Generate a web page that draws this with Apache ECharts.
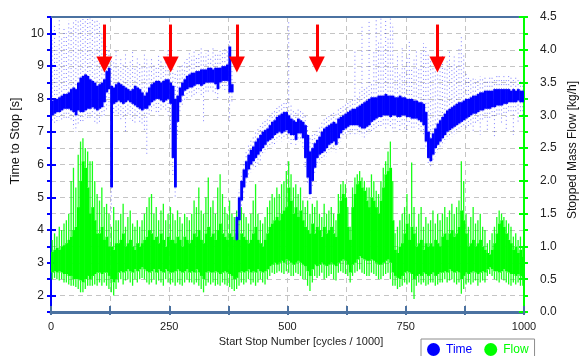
<!DOCTYPE html>
<html>
<head>
<meta charset="utf-8">
<script src="https://cdn.jsdelivr.net/npm/echarts@6/dist/echarts.min.js"></script>
<style>
  html, body { margin: 0; padding: 0; background: #fff; }
  #chart { width: 579px; height: 356px; }
</style>
</head>
<body>
<div id="chart"></div>
<script>
// Each bin covers 5 (x1000) start-stop cycles; bin i spans [i*5, i*5+5].
const BIN = 5;

// Time to stop [s]: dense band (lo..hi) and sparse scatter extent (min..max) per bin
const timeLo = [
  7.5,7.55,7.6,7.6,7.65,7.7,7.7,7.7,7.65,7.6,
  7.5,7.65,7.6,7.6,7.65,7.7,7.7,7.75,7.7,7.65,
  7.7,7.75,7.9,8.2,8.3,5.3,7.85,7.9,7.95,7.9,
  7.85,7.9,7.95,7.9,7.85,7.8,7.75,7.7,7.65,7.7,
  7.7,7.8,7.9,7.95,8.0,8.0,7.95,7.9,7.95,8.0,
  7.85,6.2,5.3,7.3,7.9,8.1,8.25,8.3,8.35,8.35,
  8.4,8.45,8.45,8.4,8.45,8.5,8.5,8.5,8.5,8.45,
  8.3,8.5,8.55,8.55,8.55,8.2,8.2,null,3.7,4.3,
  4.9,5.3,5.6,5.85,6.0,6.1,6.2,6.3,6.4,6.5,
  6.6,6.7,6.75,6.8,6.9,6.95,7.0,6.95,7.0,7.05,
  6.95,6.9,6.9,6.75,6.95,6.95,6.8,6.2,5.6,5.1,
  5.5,5.9,6.2,6.3,6.35,6.4,6.5,6.6,6.65,6.7,
  6.6,6.8,6.95,7.05,7.1,7.15,7.2,7.2,7.2,7.2,
  7.15,7.1,7.1,7.15,7.2,7.3,7.35,7.4,7.45,7.45,
  7.5,7.5,7.5,7.45,7.5,7.5,7.45,7.45,7.5,7.5,
  7.45,7.45,7.4,7.4,7.4,7.35,7.3,7.2,6.7,6.2,
  6.1,6.3,6.5,6.6,6.7,6.8,6.9,7.0,7.05,7.1,
  7.15,7.2,7.25,7.3,7.35,7.4,7.45,7.5,7.55,7.55,
  7.6,7.65,7.65,7.7,7.7,7.7,7.75,7.75,7.8,7.8,
  7.8,7.85,7.85,7.9,7.9,7.9,7.9,7.95,7.9,7.9
];
const timeHi = [
  7.95,8.0,8.0,8.05,8.1,8.15,8.15,8.2,8.3,8.35,
  8.3,8.5,8.65,8.7,8.75,8.7,8.6,8.55,8.5,8.4,
  8.45,8.5,8.6,8.85,8.95,8.4,8.35,8.45,8.5,8.45,
  8.4,8.35,8.3,8.25,8.3,8.4,8.35,8.3,8.2,8.1,
  8.2,8.35,8.45,8.5,8.55,8.55,8.5,8.55,8.6,8.6,
  8.5,8.4,8.0,8.1,8.35,8.5,8.6,8.7,8.75,8.8,
  8.8,8.85,8.85,8.9,8.9,8.9,8.95,8.95,8.9,8.95,
  8.95,8.95,9.0,9.0,9.05,9.6,8.45,null,4.4,5.0,
  5.5,5.85,6.1,6.3,6.45,6.55,6.7,6.8,6.9,7.0,
  7.05,7.1,7.2,7.3,7.35,7.45,7.5,7.55,7.6,7.6,
  7.5,7.4,7.35,7.3,7.4,7.35,7.3,7.2,6.9,6.4,
  6.5,6.65,6.75,6.85,7.0,7.1,7.15,7.2,7.25,7.3,
  7.25,7.4,7.45,7.5,7.55,7.6,7.65,7.7,7.7,7.75,
  7.8,7.85,7.9,7.95,8.0,8.05,8.05,8.05,8.1,8.1,
  8.1,8.15,8.1,8.1,8.1,8.05,8.05,8.1,8.05,8.05,
  8.0,8.0,8.0,7.95,7.95,7.9,7.9,7.85,7.6,7.0,
  6.8,6.95,7.1,7.25,7.35,7.45,7.55,7.65,7.7,7.75,
  7.8,7.85,7.9,7.9,7.95,8.0,8.0,8.05,8.1,8.1,
  8.15,8.2,8.2,8.25,8.25,8.25,8.25,8.3,8.3,8.3,
  8.3,8.3,8.3,8.3,8.25,8.3,8.25,8.3,8.25,8.25
];
const timeMin = [
  7.3,7.2,7.3,7.35,7.3,7.4,7.4,7.4,7.3,7.1,
  7.0,7.2,7.3,7.3,7.4,7.4,7.35,7.4,7.3,7.2,
  7.3,7.4,7.5,7.6,7.8,4.5,7.5,7.6,7.5,7.3,
  7.4,6.95,7.5,7.4,7.3,7.2,7.4,7.3,7.2,7.0,
  6.3,7.5,7.6,7.7,7.6,7.5,7.6,7.7,7.6,7.5,
  7.0,5.6,5.0,6.8,7.6,7.8,7.9,8.0,8.1,8.0,
  8.1,8.1,8.2,8.1,7.3,8.2,8.2,8.3,8.2,8.1,
  8.0,8.3,8.3,8.2,8.3,7.3,7.9,null,3.6,4.15,
  4.7,5.1,5.35,5.6,5.75,5.85,5.9,6.0,6.1,6.3,
  6.35,6.45,6.5,6.55,6.6,6.7,6.75,6.7,6.75,6.8,
  6.7,6.6,6.7,6.6,6.7,6.7,6.5,5.9,5.4,4.95,
  5.3,5.7,5.95,6.05,6.1,6.15,6.25,6.35,6.4,6.45,
  6.35,6.55,6.7,6.8,6.85,6.9,6.9,6.95,6.9,6.95,
  6.9,6.85,6.8,6.9,6.95,7.0,7.05,7.1,7.1,7.15,
  7.2,7.1,7.2,7.1,7.0,7.1,7.2,7.0,7.2,7.1,
  7.0,7.2,7.1,7.1,7.15,7.05,7.0,6.9,6.5,6.0,
  5.95,6.05,6.25,6.35,6.45,6.55,6.65,6.75,6.8,6.85,
  6.9,6.95,7.0,7.05,7.1,7.1,7.15,7.2,7.0,7.25,
  7.3,6.9,7.35,7.4,7.0,7.4,7.45,6.8,7.5,7.45,
  7.2,7.55,7.0,7.6,7.55,6.9,7.6,7.3,7.6,7.4
];
const timeMax = [
  9.8,10.3,9.6,10.4,9.9,10.2,10.0,10.4,10.2,10.4,
  10.4,10.45,10.45,10.45,10.45,10.45,10.45,10.45,10.45,10.45,
  10.3,10.0,9.8,9.6,9.5,9.3,9.2,9.5,9.0,9.3,
  9.1,9.4,9.0,9.2,9.5,9.0,9.3,9.1,9.0,9.4,
  9.2,9.0,9.3,9.1,9.0,9.4,9.2,9.0,9.3,9.5,
  9.2,9.0,8.8,8.9,9.0,9.1,9.2,9.3,9.4,9.3,
  9.5,9.3,9.4,9.6,9.3,9.4,9.5,9.3,9.6,9.4,
  9.4,9.5,9.4,9.6,9.5,9.8,8.9,null,4.6,5.25,
  5.75,6.1,6.4,6.6,6.75,6.9,7.0,7.1,7.2,7.3,
  7.35,7.45,7.5,7.6,7.65,7.75,7.8,7.85,7.9,7.95,
  10.4,7.8,7.7,7.65,7.7,7.7,7.6,7.5,7.2,6.8,
  6.9,7.0,7.1,7.2,7.3,7.4,7.45,7.5,7.55,7.6,
  7.55,7.7,7.75,7.8,7.85,7.9,8.0,8.0,9.5,8.1,
  8.3,10.2,8.3,8.4,10.4,8.5,9.5,10.45,9.8,10.45,
  9.6,10.45,9.9,10.45,10.3,9.0,9.4,8.8,9.6,9.0,
  9.3,9.8,8.9,9.2,9.5,9.0,9.4,9.7,9.6,9.4,
  9.2,9.0,9.3,9.6,9.1,9.4,9.0,9.2,9.5,9.1,
  9.3,9.0,9.6,9.9,9.4,8.8,8.7,8.6,8.7,8.6,
  8.6,8.7,8.6,8.7,8.6,8.7,8.7,8.6,8.7,8.7,
  8.6,8.7,8.6,8.7,8.7,8.6,8.7,8.6,8.6,8.5
];

// Stopped mass flow [kg/h]: dense band (lo..hi), spike tops (peak) and low tails (min) per bin
const flowLo = [
  0.6,0.62,0.6,0.62,0.6,0.58,0.58,0.55,0.55,0.5,
  0.5,0.5,0.48,0.45,0.5,0.55,0.5,0.55,0.58,0.6,
  0.6,0.58,0.6,0.6,0.55,0.5,0.45,0.5,0.6,0.62,
  0.6,0.62,0.65,0.62,0.6,0.65,0.62,0.65,0.68,0.65,
  0.62,0.6,0.62,0.65,0.6,0.65,0.62,0.6,0.65,0.62,
  0.6,0.6,0.62,0.65,0.62,0.6,0.62,0.65,0.6,0.62,
  0.6,0.65,0.6,0.55,0.5,0.6,0.62,0.6,0.6,0.62,
  0.6,0.58,0.6,0.62,0.6,0.58,0.55,0.5,0.52,0.6,
  0.62,0.6,0.62,0.65,0.6,0.62,0.6,0.65,0.62,0.6,
  0.62,0.65,0.7,0.72,0.75,0.72,0.75,0.78,0.75,0.8,
  0.78,0.75,0.72,0.75,0.78,0.75,0.72,0.7,0.62,0.55,
  0.65,0.72,0.7,0.72,0.75,0.72,0.7,0.72,0.75,0.72,
  0.7,0.75,0.78,0.8,0.78,0.72,0.6,0.72,0.75,0.8,
  0.85,0.82,0.8,0.78,0.78,0.8,0.78,0.75,0.72,0.72,
  0.75,0.78,0.8,0.75,0.6,0.55,0.52,0.5,0.55,0.6,
  0.62,0.6,0.58,0.5,0.55,0.58,0.55,0.6,0.58,0.55,
  0.58,0.6,0.55,0.58,0.6,0.6,0.62,0.6,0.65,0.62,
  0.6,0.62,0.6,0.5,0.55,0.6,0.58,0.6,0.62,0.6,
  0.58,0.6,0.62,0.6,0.65,0.68,0.65,0.62,0.62,0.6,
  0.62,0.65,0.62,0.6,0.58,0.58,0.55,0.58,0.55,0.52
];
const flowHi = [
  0.92,0.95,0.98,0.95,1.0,1.02,1.05,1.1,1.15,1.25,
  1.3,1.6,2.0,2.3,2.2,1.9,1.5,1.6,1.4,1.2,
  1.2,1.3,1.1,1.15,1.0,1.0,0.95,1.05,1.05,1.1,
  1.2,1.0,1.05,1.1,1.0,0.95,1.05,1.0,1.05,1.1,
  1.15,1.25,1.2,1.1,1.15,1.05,1.2,1.1,1.0,1.15,
  1.1,1.1,1.05,1.15,1.1,1.0,1.15,1.1,1.05,1.1,
  1.2,1.15,1.25,1.1,1.05,1.2,1.3,1.15,1.2,1.1,
  1.25,1.35,1.2,1.15,1.1,1.2,1.15,1.1,1.2,1.1,
  1.2,1.15,1.1,1.05,1.1,1.2,1.3,1.1,1.05,1.0,
  1.1,1.2,1.3,1.35,1.4,1.45,1.4,1.5,1.55,1.6,
  1.9,1.7,1.5,1.6,1.45,1.55,1.4,1.3,1.25,1.2,
  1.35,1.2,1.3,1.25,1.15,1.3,1.2,1.25,1.3,1.2,
  1.15,1.5,1.7,1.8,1.75,1.3,1.1,1.6,1.8,1.95,
  2.0,1.9,1.85,1.7,1.6,1.75,1.7,1.6,1.5,1.7,
  1.9,2.1,2.15,2.2,1.4,0.95,0.9,1.0,1.05,1.2,
  1.35,1.1,1.3,1.2,1.0,1.05,1.1,0.95,1.05,1.0,
  1.05,1.0,1.1,1.05,1.0,1.15,1.2,1.1,1.2,1.25,
  1.15,1.2,1.3,1.55,1.4,1.2,1.0,1.05,1.1,1.0,
  1.05,1.1,1.0,0.95,0.9,0.88,0.95,1.05,1.2,1.35,
  1.4,1.3,1.2,1.1,1.05,0.95,1.0,0.9,0.95,0.85
];
const flowPeak = [
  1.1,1.2,1.15,1.3,1.25,1.35,1.4,1.5,2.0,2.2,
  1.9,2.4,2.6,2.65,2.5,2.45,2.3,2.3,2.0,1.8,
  1.7,1.9,1.6,1.65,1.5,1.3,1.6,1.4,1.4,1.5,
  1.65,1.3,1.45,1.55,1.35,1.3,1.4,1.3,1.4,1.5,
  1.6,1.75,1.8,1.5,1.6,1.4,1.55,1.65,1.4,1.5,
  1.6,1.5,1.4,1.55,1.45,1.35,1.5,1.45,1.4,1.5,
  1.7,1.6,1.9,1.55,1.5,1.75,2.05,1.6,1.7,1.5,
  1.9,2.1,1.8,1.6,1.5,1.7,1.5,1.45,1.55,1.4,
  1.6,1.5,1.45,1.35,1.5,1.7,1.95,1.5,1.4,1.35,
  1.45,1.6,1.7,1.8,1.75,1.9,1.8,1.95,2.0,2.15,
  2.3,2.1,1.9,1.95,1.8,1.9,1.7,1.6,1.7,1.5,
  1.65,1.6,1.7,1.5,1.45,1.65,1.5,1.55,1.6,1.5,
  1.4,1.8,1.95,2.0,1.95,1.6,1.3,1.9,2.05,2.1,
  2.15,2.05,2.0,1.9,1.9,2.1,2.0,1.85,1.8,2.0,
  2.2,2.3,2.45,2.6,2.0,1.2,1.3,1.4,1.5,1.6,
  1.8,1.5,2.28,1.6,1.3,1.5,1.6,1.3,1.45,1.35,
  1.4,1.55,1.35,1.5,1.4,1.5,1.6,1.45,1.55,1.65,
  1.5,1.6,1.7,2.3,2.0,1.5,1.3,1.45,1.6,1.35,
  1.4,1.5,1.3,1.25,1.05,1.1,1.2,1.3,1.45,1.55,
  1.5,1.45,1.4,1.35,1.3,1.15,1.2,1.1,1.15,1.0
];
const flowMin = [
  0.5,0.52,0.5,0.48,0.5,0.45,0.45,0.42,0.4,0.4,
  0.38,0.35,0.3,0.3,0.35,0.4,0.4,0.4,0.42,0.4,
  0.45,0.4,0.45,0.4,0.35,0.3,0.25,0.35,0.45,0.5,
  0.42,0.48,0.5,0.45,0.4,0.5,0.45,0.5,0.52,0.5,
  0.45,0.42,0.45,0.5,0.42,0.48,0.45,0.4,0.5,0.45,
  0.42,0.45,0.4,0.45,0.42,0.4,0.45,0.5,0.45,0.45,
  0.42,0.45,0.4,0.35,0.3,0.4,0.45,0.42,0.45,0.4,
  0.42,0.4,0.45,0.42,0.4,0.38,0.35,0.32,0.35,0.4,
  0.45,0.42,0.45,0.5,0.42,0.45,0.4,0.45,0.5,0.45,
  0.42,0.5,0.55,0.6,0.58,0.6,0.62,0.6,0.58,0.62,
  0.6,0.55,0.55,0.6,0.58,0.55,0.5,0.5,0.4,0.32,
  0.45,0.55,0.52,0.55,0.6,0.5,0.52,0.55,0.58,0.5,
  0.48,0.6,0.62,0.6,0.58,0.55,0.45,0.55,0.6,0.62,
  0.65,0.6,0.58,0.55,0.55,0.6,0.58,0.55,0.5,0.5,
  0.55,0.58,0.6,0.5,0.4,0.4,0.35,0.38,0.4,0.45,
  0.42,0.45,0.3,0.2,0.4,0.45,0.42,0.45,0.4,0.42,
  0.45,0.45,0.4,0.42,0.45,0.45,0.5,0.45,0.48,0.5,
  0.45,0.42,0.45,0.28,0.35,0.42,0.45,0.42,0.45,0.48,
  0.4,0.45,0.48,0.45,0.55,0.58,0.55,0.5,0.48,0.45,
  0.5,0.48,0.45,0.42,0.4,0.45,0.42,0.45,0.4,0.4
];

// Axis ticks
const xTickLabels = [0, 250, 500, 750, 1000];
const timeTickLabels = [2, 3, 4, 5, 6, 7, 8, 9, 10];
const flowTickLabels = [0, 0.5, 1, 1.5, 2, 2.5, 3, 3.5, 4, 4.5];

// Event markers: cycle position and vertical extent on the time axis
const arrowCycles = [113, 253, 393, 562, 817];
const arrowTop = 10.27;
const arrowEnd = 9.05;

const BLUE = '#0000ff';
const GREEN = '#00ff00';
const STEEL = '#4b72a1';
const FONT = '"Liberation Sans", Arial, sans-serif';

function toBins(lo, hi, mn, mx) {
  const out = [];
  for (let i = 0; i < lo.length; i++) {
    if (lo[i] == null) continue;
    out.push([i * BIN, (i + 1) * BIN, mn[i], lo[i], hi[i], mx[i]]);
  }
  return out;
}

function makeRenderer(color, tailStyle) {
  return function (params, api) {
    const x0 = api.value(0), x1 = api.value(1);
    const pTop = api.coord([x0, api.value(4)]);
    const pBot = api.coord([x1, api.value(3)]);
    const yMax = api.coord([x0, api.value(5)])[1];
    const yMin = api.coord([x0, api.value(2)])[1];
    const xm = (pTop[0] + pBot[0]) / 2;
    return {
      type: 'group',
      children: [
        { type: 'line', shape: { x1: xm, y1: pTop[1], x2: xm, y2: yMax }, style: Object.assign({ stroke: color }, tailStyle) },
        { type: 'line', shape: { x1: xm, y1: pBot[1], x2: xm, y2: yMin }, style: Object.assign({ stroke: color }, tailStyle) },
        { type: 'rect', shape: { x: pTop[0], y: pTop[1], width: pBot[0] - pTop[0] + 0.5, height: pBot[1] - pTop[1] }, style: { fill: color } }
      ]
    };
  };
}

const chart = echarts.init(document.getElementById('chart'), null, { renderer: 'canvas' });

const gridLine = { show: true, lineStyle: { color: '#c4c4c4', width: 1, type: [5, 4] } };

chart.setOption({
  animation: false,
  backgroundColor: '#ffffff',
  grid: { left: 51, right: 55, top: 17, bottom: 44, containLabel: false },
  legend: {
    left: 421, top: 339,
    padding: [4, 6, 10, 6],
    itemWidth: 13, itemHeight: 13, itemGap: 12,
    borderColor: '#8c8c8c', borderWidth: 1,
    textStyle: { fontSize: 12, fontFamily: FONT, padding: [0, 0, 0, 1] },
    data: [
      { name: 'Time', icon: 'circle', textStyle: { color: BLUE } },
      { name: 'Flow', icon: 'circle', textStyle: { color: GREEN } }
    ]
  },
  xAxis: [
    {
      type: 'value', position: 'bottom', min: 0, max: 1000, interval: 125,
      axisLine: { show: true, onZero: false, lineStyle: { color: STEEL, width: 3 } },
      axisTick: { show: true, length: 3, lineStyle: { color: STEEL, width: 2 } },
      axisLabel: {
        customValues: xTickLabels, color: '#222', fontSize: 11, fontFamily: FONT, margin: 9,
        formatter: (v) => String(v)
      },
      splitLine: gridLine
    },
    {
      type: 'value', position: 'bottom', offset: 0, min: 0, max: 1000, interval: 125,
      axisLine: { show: false, onZero: false },
      axisTick: { show: true, inside: true, length: 6, lineStyle: { color: STEEL, width: 2 } },
      axisLabel: { show: false }, splitLine: { show: false }
    },
    {
      type: 'value', position: 'top', min: 0, max: 1000,
      axisLine: { show: true, onZero: false, lineStyle: { color: STEEL, width: 2 } },
      axisTick: { show: false }, axisLabel: { show: false }, splitLine: { show: false }
    }
  ],
  yAxis: [
    {
      type: 'value', position: 'left', min: 1.5, max: 10.5, interval: 0.5,
      axisLine: { show: true, onZero: false, lineStyle: { color: BLUE, width: 2 } },
      axisTick: { show: true, length: 4, lineStyle: { color: BLUE, width: 2 } },
      axisLabel: { customValues: timeTickLabels, color: '#222', fontSize: 12, fontFamily: FONT, margin: 7 },
      splitLine: gridLine
    },
    {
      type: 'value', position: 'right', min: 0, max: 4.5, interval: 0.25,
      axisLine: { show: true, onZero: false, lineStyle: { color: GREEN, width: 2 } },
      axisTick: { show: true, length: 4, lineStyle: { color: GREEN, width: 2 } },
      axisLabel: {
        customValues: flowTickLabels, color: '#222', fontSize: 12, fontFamily: FONT, margin: 16,
        formatter: (v) => v.toFixed(1)
      },
      splitLine: { show: false }
    },
    {
      type: 'value', position: 'left', offset: 0, min: 1.5, max: 10.5, interval: 0.5,
      axisLine: { show: false, onZero: false },
      axisTick: { show: true, inside: true, length: 5, customValues: timeTickLabels, lineStyle: { color: BLUE, width: 2 } },
      axisLabel: { show: false }, splitLine: { show: false }
    },
    {
      type: 'value', position: 'right', offset: 0, min: 0, max: 4.5, interval: 0.25,
      axisLine: { show: false, onZero: false },
      axisTick: { show: true, inside: true, length: 5, customValues: flowTickLabels, lineStyle: { color: GREEN, width: 2 } },
      axisLabel: { show: false }, splitLine: { show: false }
    }
  ],
  graphic: [
    { type: 'text', x: 16, y: 141, rotation: Math.PI / 2,
      style: { text: 'Time to Stop [s]', fontSize: 12.5, fontFamily: FONT, fill: '#111', align: 'center', verticalAlign: 'middle' } },
    { type: 'text', x: 573, y: 150, rotation: Math.PI / 2,
      style: { text: 'Stopped Mass Flow [kg/h]', fontSize: 12, fontFamily: FONT, fill: '#111', align: 'center', verticalAlign: 'middle' } },
    { type: 'text', x: 301, y: 342,
      style: { text: 'Start Stop Number [cycles / 1000]', fontSize: 11, fontFamily: FONT, fill: '#222', align: 'center', verticalAlign: 'middle' } }
  ],
  series: [
    {
      name: 'Flow', type: 'custom', xAxisIndex: 0, yAxisIndex: 1,
      itemStyle: { color: GREEN },
      encode: { x: [0, 1], y: [2, 3, 4, 5] },
      renderItem: makeRenderer(GREEN, { lineWidth: 1.3, opacity: 0.9 }),
      data: toBins(flowLo, flowHi, flowMin, flowPeak),
      silent: true, clip: true
    },
    {
      name: 'Time', type: 'custom', xAxisIndex: 0, yAxisIndex: 0,
      itemStyle: { color: BLUE },
      encode: { x: [0, 1], y: [2, 3, 4, 5] },
      renderItem: makeRenderer(BLUE, { lineWidth: 1, lineDash: [1, 3], opacity: 0.5 }),
      data: toBins(timeLo, timeHi, timeMin, timeMax),
      silent: true, clip: true
    },
    {
      name: 'events', type: 'line', xAxisIndex: 0, yAxisIndex: 0, data: [],
      markLine: {
        silent: true, animation: false,
        symbol: ['none', 'triangle'], symbolSize: 16,
        label: { show: false },
        lineStyle: { color: '#ff0000', width: 3, type: 'solid' },
        itemStyle: { color: '#ff0000' },
        data: arrowCycles.map(c => [{ coord: [c, arrowTop] }, { coord: [c, arrowEnd] }])
      }
    }
  ]
});
</script>
</body>
</html>
